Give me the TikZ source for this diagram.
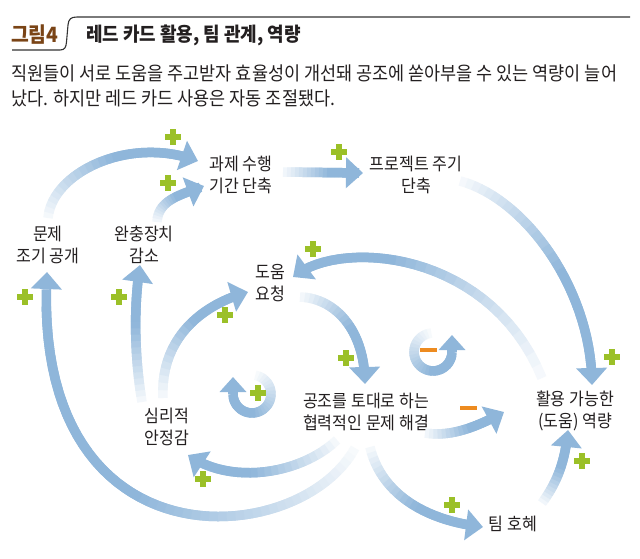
\documentclass[tikz,border=0pt]{standalone}
\usepackage{fontspec}
\setmainfont{Noto Sans CJK KR}
\newfontfamily\condfont[FakeStretch=0.92]{Noto Sans CJK KR}
\usetikzlibrary{arrows.meta,calc}
\definecolor{arrblue}{RGB}{143,182,218}
\definecolor{plusgreen}{RGB}{155,192,40}
\definecolor{minusorange}{RGB}{237,139,32}
\definecolor{txt}{RGB}{35,31,32}
\definecolor{figbrown}{RGB}{122,68,22}
\tikzset{
  shaft/.style={line width=9.5pt, line join=round, line cap=butt},
  lbl/.style={font=\condfont\fontsize{17.5}{22.5}\selectfont, text=txt, align=center, inner sep=0pt},
  hdr/.style={font=\condfont\bfseries\fontsize{19.5}{22}\selectfont, text=txt, inner sep=0pt},
  sub/.style={font=\condfont\fontsize{19}{24}\selectfont, text=txt, inner sep=0pt, anchor=west},
  plussign/.pic={\fill[plusgreen] (-8,-2.6) rectangle (8,2.6); \fill[plusgreen] (-2.6,-8) rectangle (2.6,8);},
  minussign/.pic={\fill[minusorange] (-8.5,-2.3) rectangle (8.5,2.3);}
}
% fading arrow along a path: #1 segments, #2 path, #3 tip options
\newcommand\fadecurve[3][26]{%
  \foreach \k in {0,...,#1}{\pgfmathsetmacro\pp{\k/#1}\path #2 coordinate[pos=\pp] (fp\k);}%
  \pgfmathtruncatemacro\lastm{#1-1}%
  \pgfmathtruncatemacro\lastmm{#1-2}%
  \foreach \k in {1,...,\lastmm}{%
    \pgfmathtruncatemacro\kp{\k-1}\pgfmathtruncatemacro\kn{\k+1}%
    \pgfmathtruncatemacro\cc{min(100,4+160*\k/#1)}%
    \draw[shaft,arrblue!\cc!white] (fp\kp) -- (fp\k) -- (fp\kn);}%
  \draw[shaft,arrblue,-{Triangle[#3]}] (fp\lastm) -- (fp#1);
}
% fading ring: cx, cy, r, a0, a1, N
\newcommand\fadering[6]{%
  \foreach \k in {0,...,#6}{\pgfmathsetmacro\aa{#4+(#5-#4)*\k/#6}\coordinate (fp\k) at ({#1+#3*cos(\aa)},{#2+#3*sin(\aa)});}%
  \pgfmathtruncatemacro\lastm{#6-1}%
  \foreach \k in {1,...,\lastm}{%
    \pgfmathtruncatemacro\kp{\k-1}\pgfmathtruncatemacro\kn{\k+1}%
    \pgfmathtruncatemacro\cc{min(100,2+150*\k/#6)}%
    \draw[shaft,arrblue!\cc!white] (fp\kp) -- (fp\k) -- (fp\kn);}%
  \draw[shaft,arrblue,-{Triangle[length=15pt,width=26pt]}] (fp#6) -- ++(0,-17);
}
\begin{document}
\begin{tikzpicture}[x=1pt,y=-1pt]
\useasboundingbox (0,0) rectangle (640,558);
\fill[white] (0,0) rectangle (640,558);
% header
\draw[line width=1.1pt, draw=black!80] (12,50) -- (60,50) .. controls (65,50) and (66,47) .. (66.5,42) -- (68,25) .. controls (68.5,19) and (71,17) .. (77,17) -- (630,17);
\node[hdr, text=figbrown, anchor=west, font=\condfont\bfseries\fontsize{21}{22}\selectfont] (fig) at (11,35) {그림4};
\node[hdr, anchor=west] (title) at (86,35) {레드 카드 활용, 팀 관계, 역량};
\node[sub] (sub1) at (11,73.5) {직원들이 서로 도움을 주고받자 효율성이 개선돼 공조에 쏟아부을 수 있는 역량이 늘어};
\node[sub] (sub2) at (11,98.5) {났다. 하지만 레드 카드 사용은 자동 조절됐다.};
% nodes
\node[lbl] (n1) at (241,175) {과제 수행\\기간 단축};
\node[lbl] (n2) at (416,175) {프로젝트 주기\\단축};
\node[lbl] (n3) at (48,245) {문제\\조기 공개};
\node[lbl] (n4) at (144,245) {완충장치\\감소};
\node[lbl] (n5) at (270,283) {도움\\요청};
\node[lbl] (n6) at (167,427) {심리적\\안정감};
\node[lbl] (n7) at (366,412) {공조를 토대로 하는\\협력적인 문제 해결};
\node[lbl] (n8) at (575,411) {활용 가능한\\(도움) 역량};
\node[lbl] (n9) at (513,524) {팀 호혜};
% arrows
\def\tipA{length=17pt,width=30pt}
\fadecurve[26]{($(n3)+(0,-27)$) .. controls (52,172) and (130,135) .. ($(n1)+(-43,-14)$)}{\tipA}
\fadecurve[20]{($(n4)+(13,-23)$) .. controls (158,200) and (180,195) .. ($(n1)+(-37,11)$)}{\tipA}
\fadecurve[20]{($(n1)+(42,-3)$) -- ($(n2)+(-53,-2)$)}{\tipA}
\fadecurve[30]{($(n2)+(44,6)$) .. controls (525,198) and (592,290) .. ($(n8)+(17,-26)$)}{\tipA}
\fadecurve[50]{($(n7)+(-11,36)$) .. controls (300,550) and (30,572) .. ($(n3)+(-1,27)$)}{\tipA}
\fadecurve[24]{($(n7)+(-29,28)$) .. controls (300,475) and (230,485) .. ($(n6)+(21,28)$)}{\tipA}
\fadecurve[22]{($(n6)+(-25,-25)$) .. controls (135,360) and (133,310) .. ($(n4)+(-4,20)$)}{\tipA}
\fadecurve[22]{($(n6)+(-4,-29)$) .. controls (160,340) and (200,305) .. ($(n5)+(-22,9)$)}{\tipA}
\fadecurve[30]{($(n8)+(-33,-33)$) .. controls (490,250) and (340,238) .. ($(n5)+(23,-6)$)}{\tipA}
\fadecurve[22]{($(n5)+(30,14)$) .. controls (335,298) and (365,330) .. ($(n7)+(-1,-28)$)}{\tipA}
\fadecurve[18]{($(n7)+(59,21)$) .. controls (450,437) and (475,428) .. ($(n8)+(-71,1)$)}{\tipA}
\fadecurve[24]{($(n7)+(4,35)$) .. controls (380,490) and (420,520) .. ($(n9)+(-30,3)$)}{\tipA}
\fadecurve[18]{($(n9)+(29,-21)$) .. controls (555,485) and (565,465) .. ($(n8)+(-7,19)$)}{\tipA}
% loops
\fadering{252}{394}{19}{-80}{180}{26}
\fadering{433}{352}{19}{265}{0}{26}
% signs
\pic at (173,137) {plussign};
\pic at (168,183) {plussign};
\pic at (339,152) {plussign};
\pic at (612,357) {plussign};
\pic at (25,297) {plussign};
\pic at (203,479) {plussign};
\pic at (119,297) {plussign};
\pic at (225,315) {plussign};
\pic at (313,249) {plussign};
\pic at (346,358) {plussign};
\pic at (452,505) {plussign};
\pic at (582,461) {plussign};
\pic at (258,393) {plussign};
\pic at (468,408) {minussign};
\pic at (428,350) {minussign};
\end{tikzpicture}
\end{document}
